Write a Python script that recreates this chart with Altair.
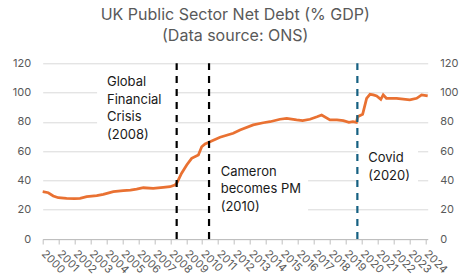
import altair as alt
import pandas as pd

# Monthly-ish readings of UK public sector net debt (% GDP)
years = [2000.00, 2000.35, 2000.66, 2000.98, 2001.50, 2002.00, 2002.34, 2002.76, 2003.39, 2003.80,
         2004.43, 2005.05, 2005.50, 2005.89, 2006.31, 2006.93, 2007.56, 2007.98, 2008.29, 2008.40,
         2008.71, 2009.03, 2009.34, 2009.76, 2009.97, 2010.18, 2010.49, 2011.12, 2011.95, 2012.37,
         2013.20, 2013.83, 2014.25, 2014.88, 2015.30, 2015.92, 2016.30, 2016.76, 2017.20, 2017.49,
         2018.01, 2018.45, 2018.85, 2019.20, 2019.45, 2019.67, 2019.75, 2020.06, 2020.31, 2020.52,
         2020.73, 2020.94, 2021.20, 2021.35, 2021.55, 2021.77, 2022.19, 2023.02, 2023.45, 2023.76,
         2024.14]
debt = [32.3, 31.6, 29.4, 28.2, 27.8, 27.6, 27.8, 28.9, 29.6, 30.5,
        32.3, 33.0, 33.4, 34.0, 35.0, 34.6, 35.3, 35.7, 36.9, 38.0,
        44.9, 50.5, 55.1, 57.4, 63.0, 64.9, 66.5, 69.5, 72.2, 74.5,
        77.9, 79.4, 80.1, 81.8, 82.4, 81.3, 80.8, 81.8, 83.5, 84.7,
        81.3, 81.3, 80.8, 79.7, 80.1, 79.7, 83.5, 85.2, 96.1, 98.8,
        98.4, 97.7, 95.4, 98.4, 96.1, 96.1, 96.1, 95.0, 96.1, 98.4,
        97.7]

# Event markers
event_x = [2008.40, 2010.43, 2019.73]
event_color = ["#000000", "#000000", "#156082"]

# Annotations
note_text = ["Global\nFinancial\nCrisis\n(2008)", "Cameron\nbecomes PM\n(2010)", "Covid\n(2020)"]
note_x = [2004.03, 2011.16, 2020.41]
note_y = [107.4, 46.0, 55.1]
box_x1 = [2003.41, 2010.50, 2019.76]
box_x2 = [2008.33, 2016.64, 2023.53]
box_y1 = [64.0, 10.0, 30.0]
box_y2 = [117.0, 55.0, 70.0]

year_ticks = list(range(2000, 2025))
y_ticks = [0, 20, 40, 60, 80, 100, 120]

FONT = "Inter"
GREY = "#595959"

df = pd.DataFrame({"year": years, "debt": debt})
ev = pd.DataFrame({"x": event_x, "c": event_color, "y0": [0] * 3, "y1": [120] * 3})
notes = pd.DataFrame({"t": note_text, "x": note_x, "y": note_y})
boxes = pd.DataFrame({"x1": box_x1, "x2": box_x2, "y1": box_y1, "y2": box_y2})

xscale = alt.Scale(domain=[2000, 2024.14], nice=False, zero=False)
yscale = alt.Scale(domain=[0, 120], nice=False)

x_axis = alt.Axis(values=year_ticks, format="d", labelAngle=45, labelAlign="left",
                  labelBaseline="middle", tickSize=5, tickColor="#bfbfbf", domainColor="#bfbfbf",
                  grid=False, labelColor=GREY, labelFontSize=11, labelFont=FONT, labelPadding=8,
                  labelOverlap=False, labelBound=False, labelFlush=False, title=None)
y_left = alt.Axis(values=y_ticks, grid=True, gridColor="#d9d9d9", domain=False, ticks=False,
                  labelPadding=12, labelColor=GREY, labelFontSize=11, labelFont=FONT, title=None)
y_right = alt.Axis(values=y_ticks, orient="right", grid=False, domain=False, ticks=False,
                   labelPadding=12, labelColor=GREY, labelFontSize=11, labelFont=FONT, title=None)

rects = alt.Chart(boxes).mark_rect(color="white").encode(
    x=alt.X("x1:Q", scale=xscale, axis=x_axis),
    x2="x2",
    y=alt.Y("y1:Q", scale=yscale, axis=y_right),
    y2="y2",
)

line = alt.Chart(df).mark_line(color="#E97132", strokeWidth=2.75).encode(
    x=alt.X("year:Q", scale=xscale, axis=x_axis),
    y=alt.Y("debt:Q", scale=yscale, axis=y_left),
)

rules = alt.Chart(ev).mark_rule(strokeWidth=2.2, strokeDash=[7, 6]).encode(
    x=alt.X("x:Q", scale=xscale, axis=x_axis),
    y=alt.Y("y0:Q", scale=yscale, axis=None),
    y2="y1",
    color=alt.Color("c:N", scale=None),
)

texts = alt.Chart(notes).mark_text(align="left", baseline="middle", fontSize=13, font=FONT,
                                   color="#1a1a1a", lineBreak="\n", lineHeight=17.8).encode(
    x=alt.X("x:Q", scale=xscale, axis=x_axis),
    y=alt.Y("y:Q", scale=yscale, axis=None),
    text="t:N",
)

chart = alt.layer(rects, line, rules, texts).resolve_axis(y="independent").properties(
    width=385,
    height=175.7,
    autosize=alt.AutoSizeParams(type="none"),
    padding={"left": 42.7, "top": 63.3, "right": 42.3, "bottom": 40},
    title=alt.TitleParams(
        text=["UK Public Sector Net Debt (% GDP)", "(Data source: ONS)"],
        fontSize=16, font=FONT, color=GREY, fontWeight="normal",
        anchor="middle", frame="group", baseline="bottom", offset=-3, lineHeight=21,
    ),
).configure_view(stroke=None)

chart.save("out.html", embed_options={"renderer": "svg", "actions": False})
